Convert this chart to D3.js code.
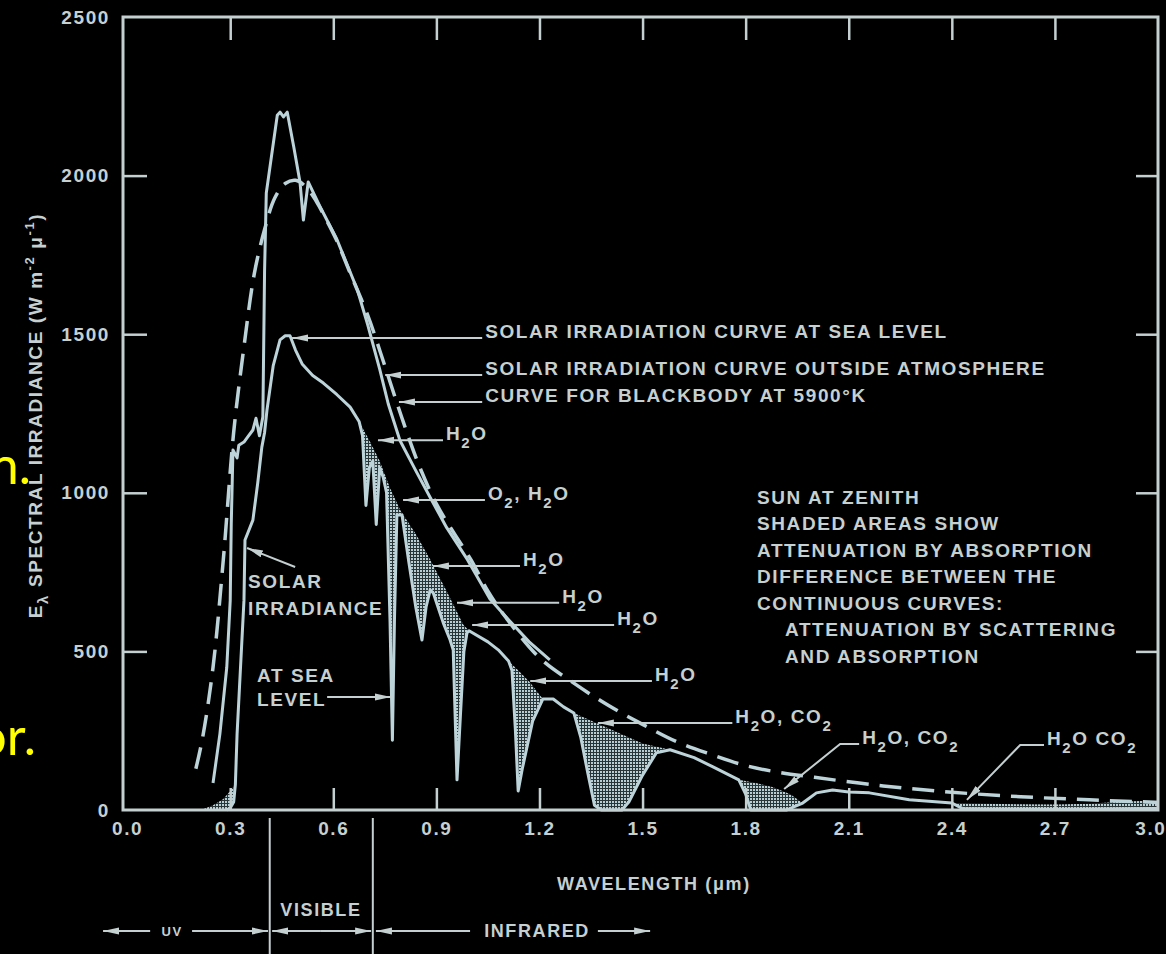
<!DOCTYPE html>
<html>
<head>
<meta charset="utf-8">
<script src="https://cdn.jsdelivr.net/npm/d3@7"></script>
<style>
  body { margin: 0; background: #000; }
  svg { display: block; }
  text { font-family: 'Liberation Sans', Arial, sans-serif; font-weight: bold; fill: #c6d0d0; letter-spacing: 1.6px; }
</style>
</head>
<body>
<div id="chart"></div>
<script>

// tick labels
var wavelengthTicks = [0.0, 0.3, 0.6, 0.9, 1.2, 1.5, 1.8, 2.1, 2.4, 2.7, 3.0];
var irradianceTicks = [0, 500, 1000, 1500, 2000, 2500];

// [wavelength um, W m-2 um-1]
var blackbody5900 = [
  [0.20, 130], [0.22, 230], [0.25, 450], [0.28, 790], [0.31, 1190], [0.34, 1460], [0.37, 1690],
  [0.40, 1830], [0.43, 1930], [0.46, 1975], [0.49, 1985], [0.52, 1965], [0.55, 1920], [0.58, 1860],
  [0.61, 1795], [0.65, 1690], [0.70, 1560], [0.75, 1400], [0.80, 1235], [0.85, 1085], [0.90, 965],
  [0.95, 875], [1.00, 790], [1.05, 690], [1.10, 610], [1.20, 480], [1.30, 400], [1.40, 330],
  [1.50, 270], [1.60, 215], [1.70, 175], [1.80, 140], [1.90, 118], [2.00, 103], [2.20, 76],
  [2.40, 56], [2.60, 42], [2.80, 32], [3.00, 24]
];

var outsideAtmosphere = [
  [0.25, 85], [0.27, 240], [0.29, 450], [0.30, 660], [0.303, 900], [0.308, 1135], [0.32, 1110],
  [0.325, 1150], [0.34, 1160], [0.35, 1175], [0.366, 1198], [0.375, 1235], [0.385, 1180],
  [0.395, 1240], [0.40, 1700], [0.405, 1945], [0.42, 2060], [0.437, 2190], [0.445, 2200],
  [0.455, 2185], [0.466, 2200], [0.485, 2090], [0.503, 1980], [0.513, 1860], [0.527, 1980],
  [0.56, 1905], [0.61, 1800], [0.67, 1640], [0.70, 1530], [0.735, 1390], [0.76, 1280],
  [0.794, 1165], [0.84, 1070], [0.882, 985], [0.93, 890], [0.99, 790], [1.056, 665],
  [1.11, 600], [1.17, 530], [1.23, 473]
];

var seaLevel = [
  [0.29, 0], [0.30, 6], [0.31, 25], [0.315, 80], [0.32, 240], [0.33, 450], [0.34, 660],
  [0.343, 851], [0.35, 870], [0.366, 914], [0.38, 1030], [0.392, 1144], [0.40, 1190],
  [0.407, 1261], [0.425, 1400], [0.445, 1482], [0.46, 1495], [0.474, 1495], [0.49, 1450],
  [0.51, 1405], [0.54, 1370], [0.571, 1346], [0.61, 1310], [0.649, 1270], [0.675, 1225],
  [0.685, 1180], [0.695, 960], [0.705, 1080], [0.715, 1100], [0.725, 900], [0.735, 1080],
  [0.745, 1050], [0.755, 1000], [0.765, 600], [0.772, 220], [0.778, 600], [0.785, 930],
  [0.80, 930], [0.82, 780], [0.84, 640], [0.858, 536], [0.87, 640], [0.882, 694], [0.891, 684],
  [0.92, 590], [0.94, 536], [0.949, 504], [0.96, 95], [0.97, 300], [0.98, 500], [0.989, 558],
  [0.995, 565], [1.05, 530], [1.08, 505], [1.11, 470], [1.12, 440], [1.13, 250], [1.138, 60],
  [1.15, 130], [1.18, 280], [1.21, 350], [1.24, 350], [1.27, 325], [1.30, 306], [1.32, 230],
  [1.34, 120], [1.36, 15], [1.38, 0], [1.44, 0], [1.46, 25], [1.50, 110], [1.54, 180],
  [1.58, 190], [1.65, 165], [1.705, 136], [1.78, 95], [1.80, 50], [1.815, 0], [1.92, 0],
  [1.94, 10], [1.966, 22], [2.006, 54], [2.053, 63], [2.10, 57], [2.16, 54], [2.276, 32],
  [2.40, 22], [2.43, 5], [2.50, 3], [2.60, 3], [2.70, 2], [2.80, 3], [2.90, 4], [3.00, 5]
];

// upper edges of the shaded absorption bands
var absorptionTops = [
  [[0.215, 0], [0.25, 15], [0.28, 35], [0.30, 60], [0.315, 80]],
  [[0.675, 1225], [0.705, 1165], [0.735, 1100], [0.765, 1015], [0.795, 945], [0.84, 870],
   [0.882, 790], [0.93, 690], [0.978, 585], [0.995, 565]],
  [[1.11, 470], [1.14, 438], [1.17, 405], [1.21, 350]],
  [[1.30, 306], [1.40, 258], [1.50, 210], [1.58, 190]],
  [[1.78, 95], [1.83, 85], [1.88, 72], [1.93, 50], [1.966, 22]],
  [[2.40, 22], [2.50, 20], [2.60, 18], [2.70, 17], [2.80, 20], [2.90, 27], [3.00, 30]]
];

// annotation labels: arrow tip and text start in data units
var notes = [
  {text: 'SOLAR IRRADIATION CURVE AT SEA LEVEL', tip: [0.480, 1488], at: [1.042, 1488]},
  {text: 'SOLAR IRRADIATION CURVE OUTSIDE ATMOSPHERE', tip: [0.751, 1371], at: [1.042, 1371]},
  {text: 'CURVE FOR BLACKBODY AT 5900\u00B0K', tip: [0.791, 1286], at: [1.042, 1286]},
  {text: 'H_2O', tip: [0.730, 1166], at: [0.928, 1166]},
  {text: 'O_2, H_2O', tip: [0.803, 977], at: [1.050, 977]},
  {text: 'H_2O', tip: [0.890, 769], at: [1.152, 769]},
  {text: 'H_2O', tip: [0.960, 653], at: [1.266, 653]},
  {text: 'H_2O', tip: [1.004, 583], at: [1.426, 583]},
  {text: 'H_2O', tip: [1.173, 407], at: [1.536, 407]},
  {text: 'H_2O, CO_2', tip: [1.370, 274], at: [1.770, 274]},
  {text: 'H_2O, CO_2', tip: [1.912, 66], elbow: [2.075, 208], at: [2.139, 208]},
  {text: 'H_2O  CO_2', tip: [2.444, 32], elbow: [2.599, 205], at: [2.677, 205]}
];

var zenithNote = ['SUN AT ZENITH', 'SHADED AREAS SHOW', 'ATTENUATION BY ABSORPTION',
  'DIFFERENCE BETWEEN THE', 'CONTINUOUS CURVES:', 'ATTENUATION BY SCATTERING', 'AND ABSORPTION'];

var spectrumBands = [
  {name: 'UV', from: -0.07, to: 0.415},
  {name: 'VISIBLE', from: 0.415, to: 0.715},
  {name: 'INFRARED', from: 0.715, to: 1.52}
];

var ink = '#c4cfd0';
var curveInk = '#bcd4d9';

var svg = d3.select('#chart').append('svg')
    .attr('width', 1166)
    .attr('height', 954);

svg.append('rect').attr('width', 1166).attr('height', 954).attr('fill', '#000');

var defs = svg.append('defs');
var pat = defs.append('pattern')
    .attr('id', 'stipple')
    .attr('width', 3).attr('height', 3)
    .attr('patternUnits', 'userSpaceOnUse');
pat.append('rect').attr('width', 3).attr('height', 3).attr('fill', '#2a3538');
pat.append('rect').attr('width', 2).attr('height', 2).attr('fill', '#b6ced4');

defs.append('marker')
    .attr('id', 'head')
    .attr('viewBox', '0 -5 16 10')
    .attr('refX', 16).attr('refY', 0)
    .attr('markerWidth', 16).attr('markerHeight', 10)
    .attr('markerUnits', 'userSpaceOnUse')
    .attr('orient', 'auto')
  .append('path')
    .attr('d', 'M0,-3.5L16,0L0,3.5Z')
    .attr('fill', ink);

// scales
var x = d3.scaleLinear().domain([-0.012, 3.0]).range([123, 1158]);
var y = d3.scaleLinear().domain([0, 2500]).range([810, 17]);

var line = d3.line()
    .x(function(d) { return x(d[0]); })
    .y(function(d) { return y(d[1]); });

// shaded absorption bands: top edge then the sea level curve back
absorptionTops.forEach(function(top) {
  var lo = top[0][0], hi = top[top.length - 1][0];
  var bottom = seaLevel.filter(function(d) { return d[0] >= lo && d[0] <= hi; }).reverse();
  svg.append('path')
      .attr('d', line(top.concat(bottom)) + 'Z')
      .attr('fill', 'url(#stipple)');
});

// curves
svg.append('path')
    .attr('d', line(seaLevel))
    .attr('fill', 'none')
    .attr('stroke', curveInk)
    .attr('stroke-width', 3)
    .attr('stroke-linejoin', 'round');

svg.append('path')
    .attr('d', line(outsideAtmosphere))
    .attr('fill', 'none')
    .attr('stroke', curveInk)
    .attr('stroke-width', 3)
    .attr('stroke-linejoin', 'round');

svg.append('path')
    .attr('d', line.curve(d3.curveCatmullRom)(blackbody5900))
    .attr('fill', 'none')
    .attr('stroke', curveInk)
    .attr('stroke-width', 3.5)
    .attr('stroke-dasharray', '22,11');
line.curve(d3.curveLinear);

// frame
svg.append('rect')
    .attr('x', x.range()[0]).attr('y', y.range()[1])
    .attr('width', x.range()[1] - x.range()[0])
    .attr('height', y.range()[0] - y.range()[1])
    .attr('fill', 'none')
    .attr('stroke', ink)
    .attr('stroke-width', 3);

// inward ticks on all four sides
var innerX = wavelengthTicks.slice(1, -1);
var innerY = irradianceTicks.slice(1, -1);

function tickGroup(axis, tx, ty) {
  var g = svg.append('g')
      .attr('transform', 'translate(' + tx + ',' + ty + ')')
      .call(axis);
  g.select('.domain').remove();
  g.selectAll('line').attr('stroke', ink).attr('stroke-width', 2.5);
  return g;
}

tickGroup(d3.axisBottom(x).tickValues(innerX).tickSize(-22).tickFormat(''), 0, y(0));
tickGroup(d3.axisTop(x).tickValues(innerX).tickSize(-23).tickFormat(''), 0, y(2500));
tickGroup(d3.axisLeft(y).tickValues(innerY).tickSize(-24).tickFormat(''), x.range()[0], 0);
tickGroup(d3.axisRight(y).tickValues(innerY).tickSize(-22).tickFormat(''), x.range()[1], 0);

// tick labels
var xLabels = tickGroup(d3.axisBottom(x).tickValues(wavelengthTicks).tickSize(0).tickPadding(12)
    .tickFormat(d3.format('.1f')), 0, y(0));
var yLabels = tickGroup(d3.axisLeft(y).tickValues(irradianceTicks).tickSize(0).tickPadding(13)
    .tickFormat(d3.format('d')), x.range()[0], 0);
[xLabels, yLabels].forEach(function(g) {
  g.attr('font-size', 19).attr('font-family', null);
});
// last wavelength label sits against the right edge
xLabels.selectAll('.tick text')
    .filter(function(d) { return d === 3.0; })
    .attr('text-anchor', 'end')
    .attr('x', 1166 - x(3.0));

// text with _2 style subscripts
function rich(sel, str) {
  var shift = 0;
  str.split(/(_\S)/).forEach(function(p) {
    if (!p) return;
    if (p[0] === '_') {
      sel.append('tspan').attr('dy', 8 - shift).attr('font-size', 15).text(p[1]);
      shift = 8;
    } else {
      sel.append('tspan').attr('dy', -shift).text(p);
      shift = 0;
    }
  });
}

// annotations with arrows
notes.forEach(function(n) {
  var sx = x(n.at[0]) - 3, sy = y(n.at[1]);
  var pts = [[sx, sy]];
  if (n.elbow) pts = [[sx, sy], [x(n.elbow[0]), y(n.elbow[1])]];
  pts.push([x(n.tip[0]), y(n.tip[1])]);
  svg.append('path')
      .attr('d', d3.line()(pts))
      .attr('fill', 'none')
      .attr('stroke', ink)
      .attr('stroke-width', 2)
      .attr('marker-end', 'url(#head)');
  var t = svg.append('text')
      .attr('x', x(n.at[0]))
      .attr('y', sy)
      .attr('dy', '0.36em')
      .attr('font-size', 19);
  rich(t, n.text);
});

function arrow(x1, y1, x2, y2) {
  svg.append('line')
      .attr('x1', x1).attr('y1', y1).attr('x2', x2).attr('y2', y2)
      .attr('stroke', ink)
      .attr('stroke-width', 2)
      .attr('marker-end', 'url(#head)');
}

function label(lines, lx, ly, step) {
  lines.forEach(function(s, i) {
    svg.append('text')
        .attr('x', lx).attr('y', ly + i * step)
        .attr('dy', '0.36em')
        .attr('font-size', 19)
        .text(s);
  });
}

label(['SOLAR', 'IRRADIANCE'], x(0.352), y(722), 27);
arrow(x(0.489), y(766), x(0.349), y(826));
label(['AT SEA', 'LEVEL'], x(0.378), y(426), 24);
arrow(x(0.582), y(356), x(0.768), y(356));

// zenith note block on the right
zenithNote.forEach(function(s, i) {
  svg.append('text')
      .attr('x', x(1.833) + (i >= 5 ? 28 : 0))
      .attr('y', y(987) + i * 26.5)
      .attr('dy', '0.36em')
      .attr('font-size', 19)
      .text(s);
});

// y axis title
var yt = svg.append('text')
    .attr('transform', 'translate(35,' + ((y(0) + y(2500)) / 2 + 2) + ') rotate(-90)')
    .attr('text-anchor', 'middle')
    .attr('dy', '0.36em')
    .attr('font-size', 19);
yt.append('tspan').text('E');
yt.append('tspan').attr('dy', 6).attr('font-size', 15).text('\u03BB');
yt.append('tspan').attr('dy', -6).text(' SPECTRAL IRRADIANCE (W m');
yt.append('tspan').attr('dy', -8).attr('font-size', 13).text('-2');
yt.append('tspan').attr('dy', 8).text(' \u03BC');
yt.append('tspan').attr('dy', -8).attr('font-size', 13).text('-1');
yt.append('tspan').attr('dy', 8).text(')');

// x axis title and spectral bands below
var base = y(0);
svg.append('text')
    .attr('x', x(1.533)).attr('y', base + 74)
    .attr('dy', '0.36em')
    .attr('text-anchor', 'middle')
    .attr('font-size', 18)
    .text('WAVELENGTH (\u03BCm)');

[spectrumBands[1].from, spectrumBands[1].to].forEach(function(b) {
  svg.append('line')
      .attr('x1', x(b)).attr('x2', x(b))
      .attr('y1', base + 8).attr('y2', 954)
      .attr('stroke', ink)
      .attr('stroke-width', 2);
});

var rowY = base + 121;
svg.append('text')
    .attr('x', x(0.564)).attr('y', base + 100)
    .attr('dy', '0.36em').attr('text-anchor', 'middle')
    .attr('font-size', 18)
    .text('VISIBLE');

// UV
arrow(x(0.067), rowY, x(-0.07), rowY);
svg.append('text').attr('x', x(0.131)).attr('y', rowY).attr('dy', '0.36em')
    .attr('text-anchor', 'middle').attr('font-size', 13).text('UV');
arrow(x(0.189), rowY, x(0.410), rowY);
// visible
arrow(x(0.564), rowY, x(0.422), rowY);
arrow(x(0.564), rowY, x(0.710), rowY);
// infrared
arrow(x(0.998), rowY, x(0.724), rowY);
svg.append('text').attr('x', x(1.193)).attr('y', rowY).attr('dy', '0.36em')
    .attr('text-anchor', 'middle').attr('font-size', 18).text('INFRARED');
arrow(x(1.370), rowY, x(1.522), rowY);

// leftover slide text at the left edge
[['n.', 484, 31], ['or.', 755, 36]].forEach(function(s) {
  svg.append('text')
      .attr('x', s[2]).attr('y', s[1])
      .attr('text-anchor', 'end')
      .style('font-family', 'Lato, "Open Sans", sans-serif')
      .style('font-weight', 'normal')
      .style('letter-spacing', '0px')
      .style('fill', '#ffff00')
      .attr('font-size', 52)
      .text(s[0]);
});

</script>
